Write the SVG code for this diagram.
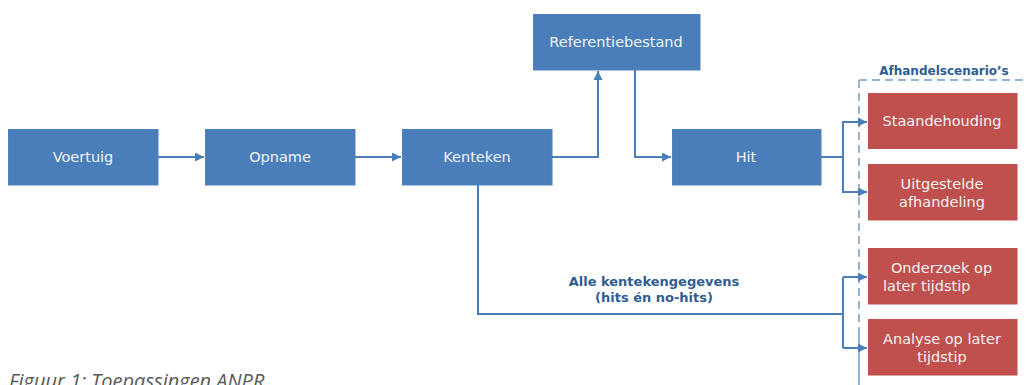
<svg xmlns="http://www.w3.org/2000/svg" width="1026" height="385" viewBox="0 0 1026 385">
<style>
.b{fill:#4A7EBB;stroke:#4F81BD;stroke-width:1}
.r{fill:#C0504D;stroke:#C0504D;stroke-width:1}
.t{font-family:"DejaVu Sans",Verdana,sans-serif;font-size:14.5px;fill:#F2F2F2;text-anchor:middle}
.c{fill:none;stroke:#4A7EBB;stroke-width:2}
.l{font-family:"DejaVu Sans",Verdana,sans-serif;font-weight:bold;fill:#2E5D93;text-anchor:middle}
</style>
<defs>
<marker id="a" viewBox="0 0 10 10" refX="10" refY="5" markerWidth="4.5" markerHeight="4.5" orient="auto" markerUnits="strokeWidth">
<path d="M0,0L10,5L0,10z" fill="#4A7EBB"/>
</marker>
</defs>
<rect width="1026" height="385" fill="#FFFFFF"/>
<g id="scenario-frame">
<path d="M859,332V385M859,80H1026" fill="none" stroke="#95B3D7" stroke-width="2" stroke-dasharray="8,5"/>
<path d="M859,80V385" fill="none" stroke="#95B3D7" stroke-width="2" stroke-dasharray="8,5"/>
<text class="l" x="944" y="75" font-size="12">Afhandelscenario’s</text>
</g>
<g id="connectors">
<line class="c" x1="158" y1="157" x2="204" y2="157" marker-end="url(#a)"/>
<line class="c" x1="355" y1="157" x2="401" y2="157" marker-end="url(#a)"/>
<polyline class="c" points="552,157 598,157 598,71" marker-end="url(#a)"/>
<polyline class="c" points="635,70 635,157 671,157" marker-end="url(#a)"/>
<polyline class="c" points="821,157 843,157"/>
<polyline class="c" points="866,122 843,122 843,192 866,192" fill="none"/>
<line class="c" x1="843" y1="122" x2="867" y2="122" marker-end="url(#a)"/>
<line class="c" x1="843" y1="192" x2="867" y2="192" marker-end="url(#a)"/>
<polyline class="c" points="478,185 478,314 843,314"/>
<polyline class="c" points="843,277 843,348"/>
<line class="c" x1="843" y1="277" x2="867" y2="277" marker-end="url(#a)"/>
<line class="c" x1="843" y1="348" x2="867" y2="348" marker-end="url(#a)"/>
<text class="l" x="654" y="286" font-size="13">Alle kentekengegevens</text>
<text class="l" x="654" y="302" font-size="13">(hits én no-hits)</text>
</g>
<g id="voertuig"><rect class="b" x="8.5" y="129.5" width="149.5" height="55.5"/><text class="t" x="83" y="162">Voertuig</text></g>
<g id="opname"><rect class="b" x="205.5" y="129.5" width="149.5" height="55.5"/><text class="t" x="280" y="162">Opname</text></g>
<g id="kenteken"><rect class="b" x="402.5" y="129.5" width="149.5" height="55.5"/><text class="t" x="477" y="162">Kenteken</text></g>
<g id="referentiebestand"><rect class="b" x="533.5" y="14.5" width="166.5" height="55.5"/><text class="t" x="616" y="47">Referentiebestand</text></g>
<g id="hit"><rect class="b" x="672.5" y="129.5" width="148.5" height="55.5"/><text class="t" x="746" y="162">Hit</text></g>
<g id="staandehouding"><rect class="r" x="868.5" y="93.5" width="148.5" height="55"/><text class="t" x="942" y="126">Staandehouding</text></g>
<g id="uitgestelde-afhandeling"><rect class="r" x="868.5" y="164.5" width="148.5" height="55.5"/><text class="t" x="942" y="189">Uitgestelde</text><text class="t" x="942" y="207">afhandeling</text></g>
<g id="onderzoek"><rect class="r" x="868.5" y="248.5" width="148.5" height="55.5"/><text class="t" x="941.5" y="273">Onderzoek op</text><text class="t" x="883" y="291" style="text-anchor:start">later tijdstip</text></g>
<g id="analyse"><rect class="r" x="868.5" y="319.5" width="148.5" height="55.5"/><text class="t" x="942" y="344">Analyse op later</text><text class="t" x="942" y="362">tijdstip</text></g>
<text x="9" y="388" font-family="'Open Sans','Liberation Sans',sans-serif" font-style="italic" font-size="20" fill="#595959">Figuur 1: Toepassingen ANPR</text>
</svg>
